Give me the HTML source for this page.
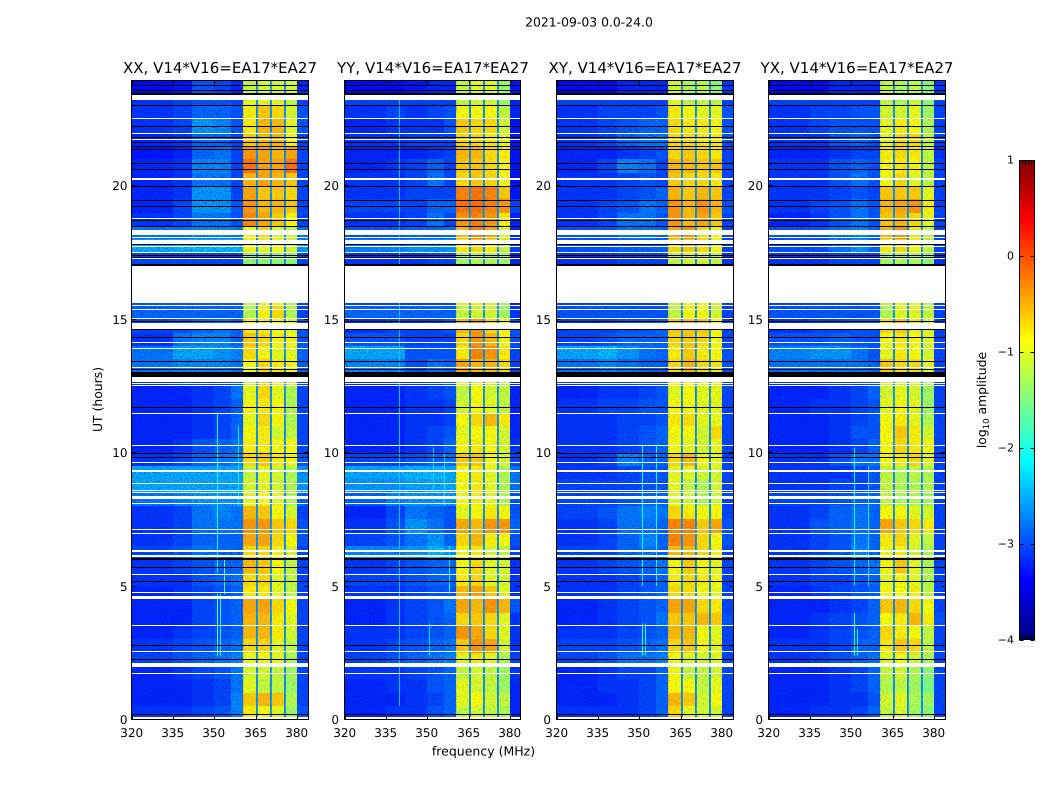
<!DOCTYPE html>
<html lang="en">
<head>
<meta charset="utf-8">
<title>2021-09-03 0.0-24.0</title>
<style>
html,body{margin:0;padding:0;background:#fff;}
body{width:1050px;height:800px;overflow:hidden;}
svg{display:block;}
text{font-family:"DejaVu Sans","Liberation Sans",sans-serif;fill:#000;}
</style>
</head>
<body>
<svg id="figure" xmlns="http://www.w3.org/2000/svg" width="1050" height="800" viewBox="0 0 1050 800" shape-rendering="crispEdges">
  <defs>
    <filter id="grainDark" x="0" y="0" width="100%" height="100%" color-interpolation-filters="sRGB">
      <feTurbulence type="fractalNoise" baseFrequency="0.8" numOctaves="2" seed="7"/>
      <feColorMatrix type="matrix" values="0 0 0 0 0  0 0 0 0 0  0 0 0 0 0.8  3 0 0 0 -1.25"/>
    </filter>
    <filter id="grainLight" x="0" y="0" width="100%" height="100%" color-interpolation-filters="sRGB">
      <feTurbulence type="fractalNoise" baseFrequency="0.8" numOctaves="2" seed="23"/>
      <feColorMatrix type="matrix" values="0 0 0 0 0  0 0 0 0 0.45  0 0 0 0 1  0 3 0 0 -1.3"/>
    </filter>
    <filter id="grainWarm" x="0" y="0" width="100%" height="100%" color-interpolation-filters="sRGB">
      <feTurbulence type="fractalNoise" baseFrequency="0.45" numOctaves="2" seed="41"/>
      <feColorMatrix type="matrix" values="0 0 0 0 1  0 0 0 0 0.5  0 0 0 0 0  3 0 0 0 -1.3"/>
    </filter>
    <filter id="grainCool" x="0" y="0" width="100%" height="100%" color-interpolation-filters="sRGB">
      <feTurbulence type="fractalNoise" baseFrequency="0.45" numOctaves="2" seed="59"/>
      <feColorMatrix type="matrix" values="0 0 0 0 0.55  0 0 0 0 1  0 0 0 0 0.3  0 3 0 0 -1.3"/>
    </filter>
  </defs>
  <text x="589" y="26.5" font-size="12.4" text-anchor="middle" text-rendering="geometricPrecision">2021-09-03 0.0-24.0</text>
  <text x="483.5" y="755.5" font-size="12.5" text-anchor="middle" text-rendering="geometricPrecision">frequency (MHz)</text>
  <text transform="translate(102,399.5) rotate(-90)" font-size="12.4" text-anchor="middle" text-rendering="geometricPrecision">UT (hours)</text>
  <text transform="translate(986,400) rotate(-90)" font-size="12.4" text-anchor="middle" text-rendering="geometricPrecision">log<tspan font-size="8.5" dy="3">10</tspan><tspan dy="-3"> amplitude</tspan></text>
  <g id="panels"></g>
  <g id="colorbar"></g>
</svg>
<script>
const panelTitles = ["XX, V14*V16=EA17*EA27","YY, V14*V16=EA17*EA27","XY, V14*V16=EA17*EA27","YX, V14*V16=EA17*EA27"];
const xTicks = [320,335,350,365,380];
const yTicks = [0,5,10,15,20];
const colorbarTicks = [-4,-3,-2,-1,0,1];
const columnStartMHz = [320,335,342,350,356,360.4,365.6,370.6,375.6,380];
const columnEndMHz = [335,342,350,356,360.4,365,370.1,375.1,380,384];
const gapStartMHz = [365,370.1,375.1];
const gapEndMHz = [365.6,370.6,375.6];
const gapLevels = [-2.7,-2.7,-2.7,-2.7];

/* log10 amplitude, rows run from 24 UT down to 0 UT in half-hour steps */
const amplitudeXX = [
[-3.4,-3.3,-2.9,-3.0,-3.2,-1.2,-1.1,-1.1,-1.1,-3.2],
[-3.1,-3.0,-2.9,-2.9,-3.0,-1.0,-1.0,-1.0,-1.2,-3.0],
[-3.1,-3.0,-2.8,-2.8,-2.9,-0.8,-0.6,-0.7,-1.1,-2.9],
[-3.1,-3.0,-2.5,-2.6,-2.9,-0.8,-0.5,-0.5,-1.0,-2.9],
[-3.2,-3.1,-2.8,-2.8,-3.0,-0.6,-0.5,-0.5,-0.9,-3.0],
[-3.3,-3.2,-2.8,-2.7,-3.0,-0.3,-0.4,-0.5,-0.4,-3.0],
[-3.2,-3.1,-2.6,-2.6,-3.0,-0.1,-0.4,-0.4,-0.1,-3.0],
[-3.2,-3.1,-2.7,-2.7,-3.0,-0.5,-0.4,-0.5,-0.6,-3.0],
[-3.2,-3.1,-2.5,-2.5,-3.0,-0.4,-0.6,-0.6,-0.7,-3.0],
[-3.2,-3.0,-2.5,-2.5,-2.9,-0.3,-0.5,-0.5,-0.6,-3.0],
[-3.1,-3.0,-2.7,-2.7,-2.9,-0.2,-0.4,-0.6,-0.9,-3.0],
[-2.7,-2.7,-2.6,-2.6,-2.7,-0.9,-0.7,-1.0,-1.1,-2.7],
[-2.4,-2.3,-2.3,-2.3,-2.3,-0.9,-1.0,-0.9,-1.1,-2.5],
[-3.0,-3.0,-3.0,-3.0,-3.0,-1.5,-1.5,-1.5,-1.5,-3.0],
[-3.0,-3.0,-3.0,-3.0,-3.0,-1.5,-1.5,-1.5,-1.5,-3.0],
[-3.0,-3.0,-3.0,-3.0,-3.0,-1.5,-1.5,-1.5,-1.5,-3.0],
[-2.9,-2.9,-2.9,-2.9,-2.9,-1.2,-1.0,-0.9,-1.3,-3.0],
[-2.8,-2.8,-2.8,-2.8,-2.8,-1.3,-0.9,-0.7,-1.3,-3.0],
[-3.0,-2.9,-2.8,-2.7,-2.8,-0.8,-0.8,-0.9,-1.0,-2.9],
[-3.1,-2.7,-2.6,-2.6,-2.8,-0.6,-0.7,-0.9,-0.9,-2.9],
[-2.7,-2.4,-2.4,-2.5,-2.6,-0.7,-0.9,-1.0,-1.0,-2.8],
[-2.7,-2.6,-2.6,-2.6,-2.7,-0.9,-0.7,-0.8,-0.9,-2.8],
[-3.1,-3.0,-3.0,-3.0,-2.9,-1.1,-0.7,-1.0,-1.1,-3.0],
[-3.2,-3.2,-3.1,-3.0,-2.7,-1.0,-0.7,-1.0,-1.3,-3.0],
[-3.2,-3.2,-3.1,-3.0,-2.8,-0.9,-0.8,-0.9,-1.3,-3.0],
[-3.2,-3.2,-3.1,-3.0,-2.8,-1.0,-0.7,-0.9,-1.3,-3.0],
[-3.2,-3.2,-3.1,-3.0,-2.8,-0.9,-0.8,-1.1,-1.2,-3.0],
[-3.2,-3.1,-2.9,-2.8,-2.7,-0.8,-0.8,-0.9,-0.9,-3.0],
[-3.1,-3.0,-2.8,-2.7,-2.6,-0.7,-0.6,-0.8,-0.9,-2.9],
[-2.4,-2.4,-2.4,-2.4,-2.4,-1.2,-1.0,-1.1,-1.3,-2.5],
[-2.4,-2.4,-2.4,-2.4,-2.4,-1.1,-1.0,-1.1,-1.3,-2.5],
[-2.7,-2.6,-2.5,-2.5,-2.5,-1.0,-0.9,-1.0,-1.3,-2.8],
[-3.1,-3.0,-2.7,-2.6,-2.7,-0.5,-0.6,-0.9,-1.1,-3.0],
[-3.1,-3.0,-2.7,-2.7,-2.7,-0.3,-0.3,-0.6,-0.7,-2.9],
[-3.1,-3.0,-2.8,-2.8,-2.8,-0.4,-0.4,-0.7,-0.9,-2.9],
[-3.0,-2.9,-2.7,-2.8,-2.8,-0.7,-0.7,-0.9,-1.1,-3.0],
[-3.1,-3.0,-2.9,-2.8,-2.8,-0.5,-0.6,-0.9,-1.2,-3.0],
[-3.1,-3.1,-2.9,-2.8,-2.7,-0.7,-0.7,-1.0,-1.2,-3.0],
[-3.2,-3.1,-3.0,-2.9,-2.8,-0.8,-0.8,-1.0,-1.2,-3.0],
[-3.2,-3.2,-3.0,-2.9,-2.8,-0.4,-0.4,-0.7,-0.9,-3.0],
[-3.2,-3.2,-3.0,-2.9,-2.8,-0.5,-0.5,-0.8,-1.0,-3.0],
[-3.2,-3.1,-3.0,-2.9,-2.8,-0.5,-0.5,-0.8,-1.1,-3.0],
[-3.1,-3.0,-2.9,-2.8,-2.7,-0.7,-0.7,-1.0,-1.2,-3.0],
[-3.0,-2.9,-2.8,-2.7,-2.6,-1.0,-0.9,-1.0,-1.3,-3.0],
[-3.2,-3.1,-3.0,-2.9,-2.7,-1.1,-1.1,-1.2,-1.4,-3.0],
[-3.2,-3.2,-3.1,-3.0,-2.7,-1.0,-1.2,-1.2,-1.4,-3.0],
[-3.2,-3.2,-3.1,-3.0,-2.6,-0.6,-0.5,-0.6,-1.3,-3.0],
[-3.1,-3.1,-3.0,-2.9,-2.6,-0.8,-0.9,-1.0,-1.4,-2.9]
];
const amplitudeYY = [
[-3.4,-3.4,-3.3,-3.2,-3.2,-1.2,-1.0,-1.0,-1.4,-3.3],
[-3.0,-3.0,-3.0,-3.0,-3.0,-1.2,-1.1,-1.1,-1.4,-3.2],
[-3.1,-3.0,-3.1,-3.0,-2.9,-0.9,-0.9,-0.9,-1.2,-3.2],
[-3.2,-3.1,-3.1,-3.1,-2.9,-0.6,-0.7,-0.7,-1.1,-3.3],
[-3.1,-3.1,-3.0,-3.0,-3.0,-0.7,-0.7,-0.8,-1.0,-3.3],
[-3.2,-3.2,-3.2,-3.1,-3.0,-0.5,-0.5,-0.7,-0.8,-3.3],
[-3.2,-3.1,-3.0,-2.8,-3.0,-0.6,-0.6,-0.7,-0.9,-3.3],
[-3.1,-3.1,-3.0,-2.7,-3.0,-0.7,-0.6,-0.7,-0.9,-3.3],
[-3.1,-3.1,-3.0,-3.0,-3.0,-0.2,-0.1,-0.2,-0.6,-3.3],
[-3.0,-3.0,-3.0,-2.8,-2.8,-0.1,-0.1,-0.2,-0.3,-3.0],
[-3.1,-3.1,-3.0,-2.7,-3.0,-0.3,-0.2,-0.3,-0.8,-3.2],
[-2.9,-2.9,-2.8,-2.8,-2.7,-0.5,-0.2,-0.4,-1.0,-3.2],
[-2.6,-2.6,-2.5,-2.5,-2.5,-0.8,-0.7,-0.8,-1.2,-3.0],
[-3.1,-3.1,-3.1,-3.0,-3.0,-1.4,-1.3,-1.3,-1.4,-3.2],
[-3.1,-3.1,-3.1,-3.0,-3.0,-1.4,-1.3,-1.3,-1.4,-3.2],
[-3.1,-3.1,-3.1,-3.0,-3.0,-1.4,-1.3,-1.3,-1.4,-3.2],
[-3.0,-3.0,-3.0,-3.0,-3.0,-1.1,-1.0,-1.1,-1.4,-3.2],
[-2.8,-2.8,-2.8,-2.8,-2.8,-1.2,-1.1,-1.1,-1.4,-3.1],
[-3.1,-3.0,-3.0,-3.0,-2.9,-0.5,-0.3,-0.7,-0.9,-2.9],
[-2.9,-2.9,-3.0,-3.0,-3.0,-0.7,-0.3,-0.5,-0.9,-2.9],
[-2.4,-2.4,-2.9,-2.9,-2.9,-0.8,-0.2,-0.3,-0.8,-3.0],
[-2.6,-2.6,-2.9,-2.7,-2.8,-0.4,-0.5,-0.5,-0.7,-3.0],
[-3.2,-3.1,-3.1,-3.0,-2.9,-1.0,-0.9,-1.1,-1.3,-3.2],
[-3.2,-3.2,-3.1,-3.0,-2.9,-1.2,-0.9,-1.1,-1.2,-3.2],
[-3.2,-3.2,-3.1,-3.1,-3.0,-1.1,-0.9,-1.0,-1.2,-3.2],
[-3.2,-3.2,-3.1,-3.1,-3.0,-0.9,-0.7,-0.5,-0.8,-3.2],
[-3.2,-3.2,-3.1,-3.0,-2.9,-1.0,-0.9,-0.9,-1.1,-3.2],
[-3.2,-3.2,-3.1,-3.0,-2.8,-0.9,-0.8,-0.9,-1.1,-3.1],
[-3.0,-3.0,-2.9,-2.8,-2.7,-0.6,-0.6,-0.9,-1.1,-3.0],
[-2.4,-2.4,-2.3,-2.3,-2.4,-0.9,-0.8,-1.0,-1.3,-2.7],
[-2.5,-2.5,-2.4,-2.4,-2.4,-0.9,-0.8,-1.0,-1.3,-2.7],
[-2.8,-2.6,-2.5,-2.5,-2.5,-0.9,-0.8,-1.0,-1.3,-2.9],
[-3.2,-3.0,-2.7,-2.8,-2.9,-1.0,-0.9,-0.8,-0.9,-2.9],
[-3.1,-2.9,-2.5,-2.7,-2.9,-0.4,-0.5,-0.3,-0.3,-2.8],
[-3.0,-2.9,-2.7,-2.5,-2.8,-0.7,-0.5,-0.8,-0.9,-2.9],
[-2.6,-2.6,-2.5,-2.3,-2.5,-0.9,-0.8,-1.1,-1.2,-3.0],
[-3.1,-3.0,-2.9,-2.8,-2.8,-0.9,-0.7,-1.0,-1.1,-3.1],
[-3.0,-3.0,-2.9,-2.8,-2.8,-0.8,-0.7,-1.0,-1.1,-3.1],
[-3.1,-3.1,-3.0,-2.9,-2.9,-0.5,-0.4,-0.6,-1.0,-3.1],
[-3.2,-3.1,-3.0,-2.9,-2.7,-0.4,-0.5,-0.3,-0.5,-2.9],
[-3.2,-3.1,-3.0,-2.9,-2.8,-0.7,-0.6,-0.7,-1.0,-3.1],
[-3.1,-3.1,-3.0,-2.9,-2.8,-0.3,-0.4,-0.7,-1.0,-3.1],
[-3.1,-3.0,-2.9,-2.8,-2.7,-0.6,-0.3,-0.4,-1.1,-3.1],
[-3.0,-2.9,-2.8,-2.7,-2.6,-1.0,-0.8,-1.0,-1.3,-3.0],
[-3.1,-3.1,-3.0,-2.9,-2.8,-1.2,-1.1,-1.2,-1.4,-3.1],
[-3.2,-3.1,-3.1,-2.9,-2.8,-1.0,-1.1,-1.2,-1.4,-3.2],
[-3.2,-3.2,-3.1,-3.0,-2.8,-1.0,-0.9,-1.1,-1.2,-3.2],
[-3.2,-3.1,-3.1,-2.9,-2.8,-1.2,-1.1,-1.2,-1.3,-3.2]
];
const amplitudeXY = [
[-3.4,-3.4,-3.2,-3.2,-3.2,-1.1,-1.3,-1.2,-1.5,-3.1],
[-3.0,-3.0,-3.0,-3.0,-3.0,-1.0,-1.2,-1.2,-1.2,-3.0],
[-3.1,-3.0,-3.0,-3.0,-2.9,-0.8,-0.9,-1.0,-1.0,-2.9],
[-3.1,-3.0,-2.9,-2.8,-2.8,-0.7,-0.8,-0.8,-0.9,-2.9],
[-3.1,-3.0,-2.8,-2.7,-2.7,-0.7,-0.7,-0.8,-0.8,-2.9],
[-3.2,-3.2,-3.1,-3.0,-2.9,-0.7,-0.6,-0.7,-0.8,-3.0],
[-3.2,-3.0,-2.6,-2.7,-3.0,-0.5,-0.5,-0.6,-0.6,-3.0],
[-3.1,-3.1,-3.0,-2.9,-3.0,-0.6,-0.7,-0.7,-0.8,-3.0],
[-3.1,-3.1,-3.0,-2.9,-2.8,-0.5,-0.6,-0.5,-0.6,-3.0],
[-3.1,-3.0,-2.9,-2.7,-2.8,-0.3,-0.5,-0.3,-0.5,-2.9],
[-3.1,-3.0,-2.7,-2.7,-2.9,-0.3,-0.5,-0.4,-0.6,-3.0],
[-2.9,-2.9,-2.7,-2.7,-2.8,-0.4,-0.3,-0.7,-0.9,-3.0],
[-2.9,-2.9,-2.8,-2.8,-2.8,-0.7,-0.6,-0.7,-0.9,-3.0],
[-3.1,-3.1,-3.0,-3.0,-3.0,-1.2,-1.1,-1.1,-1.2,-3.1],
[-3.1,-3.1,-3.0,-3.0,-3.0,-1.2,-1.1,-1.1,-1.2,-3.1],
[-3.1,-3.1,-3.0,-3.0,-3.0,-1.2,-1.1,-1.1,-1.2,-3.1],
[-3.0,-3.0,-3.0,-3.0,-3.0,-1.2,-0.9,-0.9,-1.1,-3.0],
[-2.9,-2.9,-2.9,-2.9,-2.9,-1.2,-0.9,-0.9,-1.1,-3.0],
[-3.0,-3.0,-2.9,-2.9,-2.8,-0.6,-0.6,-0.6,-0.9,-3.0],
[-3.0,-2.9,-2.8,-2.8,-2.8,-0.7,-0.6,-0.7,-0.9,-3.0],
[-2.4,-2.3,-2.5,-2.7,-2.8,-0.8,-0.6,-0.8,-0.9,-2.9],
[-2.7,-2.6,-2.7,-2.8,-2.8,-0.7,-0.5,-0.7,-0.8,-2.9],
[-3.1,-3.0,-3.0,-2.9,-2.9,-0.9,-0.9,-1.0,-1.0,-3.0],
[-3.2,-3.1,-3.1,-3.0,-2.9,-1.0,-0.9,-1.0,-1.0,-3.0],
[-3.1,-3.0,-3.0,-2.9,-2.9,-0.9,-0.9,-1.0,-1.0,-3.0],
[-3.1,-3.1,-3.0,-3.0,-2.9,-0.8,-0.7,-1.0,-1.0,-3.0],
[-3.1,-3.1,-3.0,-2.9,-2.8,-0.9,-0.9,-1.1,-0.7,-3.0],
[-3.1,-3.1,-3.0,-2.9,-2.8,-0.9,-1.0,-1.1,-1.0,-3.0],
[-3.1,-3.0,-2.6,-2.8,-2.8,-0.7,-0.5,-0.9,-1.0,-3.0],
[-3.1,-3.1,-3.0,-2.9,-2.9,-1.0,-1.0,-1.1,-1.1,-3.0],
[-3.0,-3.0,-3.0,-2.9,-2.9,-1.0,-1.2,-1.3,-1.1,-3.0],
[-3.0,-3.0,-2.9,-2.8,-2.8,-1.0,-1.1,-1.3,-1.1,-3.0],
[-3.0,-2.9,-2.7,-2.6,-2.7,-0.7,-0.8,-0.9,-0.9,-3.0],
[-3.1,-3.0,-2.7,-2.7,-2.8,-0.2,-0.2,-0.6,-0.4,-2.9],
[-3.1,-3.0,-2.8,-2.6,-2.8,-0.2,-0.3,-0.7,-0.9,-2.9],
[-3.0,-3.0,-2.8,-2.7,-2.8,-0.5,-0.5,-0.7,-0.9,-3.0],
[-3.1,-3.0,-2.9,-2.8,-2.7,-0.9,-0.6,-0.9,-1.0,-3.0],
[-3.1,-3.1,-3.0,-2.9,-2.8,-0.8,-0.7,-0.8,-0.9,-3.0],
[-3.1,-3.1,-3.0,-2.9,-2.8,-0.7,-0.7,-0.9,-1.0,-3.0],
[-3.2,-3.1,-3.0,-2.9,-2.8,-0.4,-0.4,-0.7,-0.8,-3.0],
[-3.2,-3.1,-3.0,-2.9,-2.7,-0.6,-0.6,-0.5,-0.6,-2.9],
[-3.1,-3.1,-3.0,-2.9,-2.8,-0.5,-0.5,-0.9,-1.0,-3.0],
[-3.0,-3.0,-2.9,-2.8,-2.7,-0.7,-0.6,-0.9,-1.0,-3.0],
[-3.0,-2.9,-2.7,-2.7,-2.6,-0.9,-1.0,-1.1,-1.0,-3.0],
[-3.2,-3.1,-3.0,-3.0,-2.8,-0.9,-1.2,-1.2,-1.1,-3.0],
[-3.2,-3.1,-3.1,-3.0,-2.8,-0.9,-0.9,-1.2,-1.0,-3.0],
[-3.2,-3.2,-3.1,-3.0,-2.8,-0.5,-0.6,-1.1,-0.9,-3.0],
[-3.1,-3.1,-3.1,-3.0,-2.8,-0.7,-1.0,-1.1,-1.1,-3.0]
];
const amplitudeYX = [
[-3.4,-3.4,-3.2,-3.2,-3.2,-1.2,-1.3,-1.2,-1.5,-3.1],
[-3.0,-3.0,-3.0,-3.0,-3.0,-1.2,-1.3,-1.1,-1.5,-3.0],
[-3.1,-3.0,-3.0,-2.9,-2.9,-1.1,-1.1,-1.0,-1.4,-3.0],
[-3.1,-3.0,-2.9,-2.9,-2.9,-1.0,-0.8,-0.9,-1.3,-3.0],
[-3.1,-3.1,-2.9,-2.8,-2.9,-1.0,-0.7,-0.7,-1.2,-3.0],
[-3.2,-3.2,-3.1,-3.0,-3.0,-0.8,-0.7,-0.8,-1.2,-3.1],
[-3.1,-3.1,-2.9,-2.8,-2.9,-0.9,-0.8,-0.9,-1.2,-3.0],
[-3.1,-3.1,-2.9,-2.7,-2.9,-0.9,-0.7,-1.0,-1.2,-3.0],
[-3.1,-3.1,-3.0,-2.9,-3.0,-0.6,-0.6,-0.6,-1.0,-3.0],
[-3.1,-3.0,-2.9,-2.7,-2.9,-0.5,-0.4,-0.3,-0.8,-3.0],
[-3.2,-3.1,-2.9,-2.7,-2.9,-0.6,-0.5,-0.7,-1.0,-3.0],
[-2.9,-2.9,-2.7,-2.6,-2.8,-0.5,-0.3,-0.8,-1.2,-3.0],
[-2.9,-2.9,-2.7,-2.5,-2.8,-0.8,-0.7,-0.9,-1.2,-3.0],
[-3.1,-3.1,-3.0,-3.0,-3.0,-1.4,-1.3,-1.3,-1.5,-3.1],
[-3.1,-3.1,-3.0,-3.0,-3.0,-1.4,-1.3,-1.3,-1.5,-3.1],
[-3.1,-3.1,-3.0,-3.0,-3.0,-1.4,-1.3,-1.3,-1.5,-3.1],
[-3.0,-3.0,-3.0,-3.0,-3.0,-1.2,-1.0,-1.0,-1.3,-3.0],
[-2.9,-2.9,-2.9,-2.9,-2.9,-1.3,-1.0,-1.0,-1.2,-3.0],
[-3.1,-3.0,-3.0,-2.9,-2.9,-0.7,-0.6,-0.8,-1.0,-3.0],
[-2.9,-2.9,-2.8,-2.9,-2.9,-0.9,-0.8,-0.9,-1.0,-3.0],
[-2.6,-2.5,-2.5,-2.7,-2.9,-1.0,-0.8,-0.9,-1.1,-3.0],
[-2.7,-2.7,-2.7,-2.7,-2.8,-0.6,-0.7,-0.7,-1.0,-3.0],
[-3.1,-3.1,-3.0,-3.0,-2.9,-1.1,-1.1,-1.1,-1.3,-3.0],
[-3.2,-3.2,-3.1,-3.0,-2.8,-1.1,-1.0,-1.1,-1.4,-3.0],
[-3.2,-3.1,-3.1,-3.0,-2.9,-1.0,-0.9,-1.0,-1.4,-3.0],
[-3.2,-3.2,-3.1,-3.0,-2.9,-0.9,-0.8,-1.0,-1.3,-3.0],
[-3.2,-3.2,-3.1,-2.9,-2.9,-0.9,-0.6,-0.8,-1.1,-3.0],
[-3.2,-3.2,-3.1,-3.0,-2.8,-0.9,-0.7,-0.8,-0.9,-3.0],
[-3.1,-3.1,-2.9,-2.7,-2.7,-0.9,-0.8,-0.7,-1.0,-3.0],
[-3.1,-3.1,-3.1,-3.0,-2.9,-1.2,-1.3,-1.2,-1.3,-3.0],
[-3.1,-3.1,-3.0,-3.0,-2.9,-1.2,-1.3,-1.3,-1.3,-3.0],
[-3.0,-3.0,-2.9,-2.8,-2.8,-1.2,-1.3,-1.3,-1.4,-3.0],
[-3.1,-3.0,-2.8,-2.7,-2.8,-0.9,-0.9,-1.0,-1.1,-3.0],
[-3.1,-2.9,-2.8,-2.7,-2.8,-0.4,-0.6,-0.7,-0.8,-3.0],
[-3.1,-3.0,-2.9,-2.7,-2.8,-0.8,-0.7,-1.0,-1.2,-3.0],
[-3.1,-3.0,-2.9,-2.6,-2.8,-0.9,-0.9,-1.1,-1.3,-3.0],
[-3.1,-3.0,-2.9,-2.8,-2.7,-0.9,-0.6,-1.0,-1.3,-3.0],
[-3.1,-3.0,-3.0,-2.9,-2.8,-1.0,-0.9,-1.0,-1.3,-3.0],
[-3.2,-3.1,-3.0,-2.9,-2.8,-0.9,-0.9,-0.8,-1.2,-3.0],
[-3.2,-3.2,-3.1,-3.0,-2.8,-0.6,-0.5,-0.7,-0.9,-3.0],
[-3.2,-3.1,-3.0,-2.9,-2.8,-0.9,-0.8,-0.5,-0.8,-2.9],
[-3.2,-3.1,-3.0,-2.9,-2.8,-0.7,-0.8,-0.9,-1.2,-3.0],
[-3.1,-3.1,-3.0,-2.8,-2.8,-0.8,-0.6,-0.7,-1.2,-3.0],
[-3.1,-3.0,-2.9,-2.8,-2.7,-1.0,-0.9,-1.1,-1.3,-3.0],
[-3.2,-3.2,-3.1,-3.0,-2.8,-1.2,-1.1,-1.3,-1.5,-3.0],
[-3.2,-3.2,-3.1,-3.0,-2.8,-1.3,-1.2,-1.4,-1.6,-3.0],
[-3.2,-3.2,-3.1,-3.1,-2.9,-1.1,-1.0,-1.3,-1.4,-3.0],
[-3.2,-3.1,-3.1,-3.0,-2.8,-1.2,-1.1,-1.4,-1.5,-3.0]
];
const panelAmplitudes = [amplitudeXX,amplitudeYY,amplitudeXY,amplitudeYX];

/* narrow vertical interference features: panel index, MHz, start UT, end UT, log amplitude */
const rfiPanel = [0,0,0,0,0,1,1,1,1,1,2,2,2,2,3,3,3,3];
const rfiFreq = [350.9,351.9,350.9,353.5,358.5,339.8,350.5,352,358,356,350.8,352,350.8,356,351,352,351,356];
const rfiStartUT = [2.4,2.4,5.5,4.7,8,0.5,2.4,8.5,4.7,8,2.4,2.4,5,5,2.4,2.4,5,5];
const rfiEndUT = [4.7,4.7,11.5,6,11,23.3,3.6,10.2,6.5,10,3.6,3.6,10.3,10.3,4,3.4,10.2,9.5];
const rfiLevel = [-1.7,-2,-2.1,-1.8,-2.2,-2.4,-2.3,-2.3,-2.2,-2.2,-1.9,-2.1,-2.1,-2.1,-1.9,-2.1,-2.1,-2.2];

/* flagged spans shared by all baselines, in UT hours */
const whiteSpanStart = [23.22,22.51,21.95,21.71,20.23,18.75,18.13,18.04,17.91,17.84,17.69,17.50,17.26,15.61,15.49,15.33,15.02,14.65,14.12,13.88,13.18,12.65,12.57,12.51,11.46,10.26,9.62,9.27,8.83,8.57,8.50,8.27,8.09,7.11,6.96,6.25,6.08,5.42,4.74,4.52,3.51,2.53,1.97,1.71,0.02];
const whiteSpanEnd = [23.42,22.55,21.99,21.75,20.30,18.79,18.33,18.08,17.98,17.91,17.73,17.54,17.30,17.01,15.53,15.37,15.06,14.87,14.16,13.92,13.22,12.83,12.61,12.55,11.50,10.30,9.66,9.36,8.87,8.61,8.54,8.37,8.13,7.15,7.00,6.34,6.16,5.46,4.78,4.63,3.55,2.57,2.11,1.75,0.08];
const blackSpanStart = [23.74,23.56,23.43,23.00,22.20,21.80,21.61,21.47,21.33,20.81,20.60,19.95,19.42,19.21,18.69,18.46,17.79,17.38,17.30,17.01,14.87,14.61,14.31,13.38,13.08,12.86,11.68,9.94,9.81,6.00,5.68,5.16,2.74,2.23,0.18];
const blackSpanEnd = [23.78,23.60,23.50,23.04,22.24,21.84,21.65,21.51,21.37,20.85,20.64,19.99,19.46,19.25,18.73,18.50,17.82,17.42,17.34,17.07,14.92,14.65,14.35,13.42,13.12,13.04,11.72,9.98,9.85,6.06,5.72,5.20,2.78,2.27,0.21];

const rowHours = 0.5;
const NS = "http://www.w3.org/2000/svg";
const panelLeft = [131.5,344.5,556.5,768.5];
const panelWidths = [177,176,177,177];
const plotTop = 80.5, plotBottom = 719.5;
const pxPerHour = 26.68;
const xScale = (p,f) => panelLeft[p] + (f-320)*2.76;
const yScale = t => plotBottom - t*pxPerHour;
const cbScale = v => 160 + (1-v)/5*480;

function clamp01(v){return Math.max(0,Math.min(1,v));}
function jet(v){
  const n = clamp01((v+4)/5);
  const r = clamp01(Math.min(4*n-1.5,-4*n+4.5));
  const g = clamp01(Math.min(4*n-0.5,-4*n+3.5));
  const b = clamp01(Math.min(4*n+0.5,-4*n+2.5));
  return "rgb("+Math.round(r*255)+","+Math.round(g*255)+","+Math.round(b*255)+")";
}
function rect(parent,x,y,w,h,fill){
  const el = document.createElementNS(NS,"rect");
  el.setAttribute("x",x);
  el.setAttribute("y",y);
  el.setAttribute("width",w);
  el.setAttribute("height",h);
  el.setAttribute("fill",fill);
  parent.appendChild(el);
  return el;
}
function line(parent,x1,y1,x2,y2,width){
  const el = document.createElementNS(NS,"line");
  el.setAttribute("x1",x1);
  el.setAttribute("y1",y1);
  el.setAttribute("x2",x2);
  el.setAttribute("y2",y2);
  el.setAttribute("stroke","#000");
  el.setAttribute("stroke-width",width);
  parent.appendChild(el);
  return el;
}
function label(parent,x,y,str,anchor,size){
  const el = document.createElementNS(NS,"text");
  el.setAttribute("x",x);
  el.setAttribute("y",y);
  el.setAttribute("text-anchor",anchor);
  el.setAttribute("font-size",size);
  el.setAttribute("text-rendering","geometricPrecision");
  el.textContent = str;
  parent.appendChild(el);
  return el;
}

const panelsRoot = document.getElementById("panels");
panelAmplitudes.forEach(function(rows,p){
  const panelWidth = panelWidths[p];
  const g = document.createElementNS(NS,"g");
  
  
  panelsRoot.appendChild(g);

  const clipId = "clip"+p;
  const clip = document.createElementNS(NS,"clipPath");
  clip.setAttribute("id",clipId);
  rect(clip,panelLeft[p],plotTop,panelWidth,plotBottom-plotTop,"#000");
  g.appendChild(clip);

  const heat = document.createElementNS(NS,"g");
  heat.setAttribute("clip-path","url(#"+clipId+")");
  
  
  g.appendChild(heat);

  rows.forEach(function(row,r){
    const tTop = 24 - r*rowHours;
    const y0 = Math.round(yScale(tTop));
    const y1 = Math.round(yScale(tTop-rowHours));
    row.forEach(function(value,c){
      const x0 = Math.round(xScale(p,columnStartMHz[c]));
      const x1 = Math.round(xScale(p,columnEndMHz[c]));
      const cell = rect(heat,x0,y0,x1-x0,y1-y0,jet(value));
      
      
    });
    gapStartMHz.forEach(function(f,c){
      const x0 = Math.round(xScale(p,f));
      const x1 = Math.round(xScale(p,gapEndMHz[c]));
      const gap = rect(heat,x0,y0,Math.max(2,x1-x0),y1-y0,jet(gapLevels[p]));
      
      
    });
  });

  const textureStart = [320,380];
  const textureEnd = [360.4,384];
  textureStart.forEach(function(f,i){
    const x0 = xScale(p,f);
    const w = xScale(p,textureEnd[i])-x0;
    const dark = rect(heat,x0,plotTop,w,plotBottom-plotTop,"#000");
    dark.setAttribute("filter","url(#grainDark)");
    dark.setAttribute("opacity","0.6");
    
    
    const light = rect(heat,x0,plotTop,w,plotBottom-plotTop,"#000");
    light.setAttribute("filter","url(#grainLight)");
    light.setAttribute("opacity","0.3");
    
    
  });

  const bandStart = [360.4,365.6,370.6,375.6];
  const bandEnd = [365,370.1,375.1,380];
  bandStart.forEach(function(f,i){
    const x0 = Math.round(xScale(p,f));
    const w = Math.round(xScale(p,bandEnd[i]))-x0;
    const warm = rect(heat,x0,plotTop,w,plotBottom-plotTop,"#000");
    warm.setAttribute("filter","url(#grainWarm)");
    warm.setAttribute("opacity","0.35");
    
    
    const cool = rect(heat,x0,plotTop,w,plotBottom-plotTop,"#000");
    cool.setAttribute("filter","url(#grainCool)");
    cool.setAttribute("opacity","0.35");
    
    
  });

  rfiFreq.forEach(function(f,i){
    if(rfiPanel[i]!==p) return;
    const y0 = yScale(rfiEndUT[i]);
    const rf = rect(heat,Math.round(xScale(p,f)),y0,1,yScale(rfiStartUT[i])-y0,jet(rfiLevel[i]));
    
    
  });

  whiteSpanStart.forEach(function(t,i){
    const y0 = yScale(whiteSpanEnd[i]);
    const w = rect(heat,panelLeft[p],Math.round(y0),panelWidth,Math.max(1,Math.round(yScale(t)-y0)),"#fff");
    
    
  });
  blackSpanStart.forEach(function(t,i){
    const y0 = yScale(blackSpanEnd[i]);
    const b = rect(heat,panelLeft[p],Math.round(y0),panelWidth,Math.max(1,Math.round(yScale(t)-y0)),"#000");
    
    
  });

  const frame = rect(g,panelLeft[p],plotTop,panelWidth,plotBottom-plotTop,"none");
  frame.setAttribute("stroke","#000");
  frame.setAttribute("stroke-width","1");
  
  

  const title = label(g,panelLeft[p]+88.5,73,panelTitles[p],"middle",15);
  
  

  xTicks.forEach(function(tick){
    const x = Math.round(xScale(p,tick))+0.5;
    const t1 = line(g,x,plotBottom,x,plotBottom-4,1);
    
    
    const t2 = line(g,x,plotTop,x,plotTop+4,1);
    
    
    const tl = label(g,x-0.8,737,String(tick),"middle",12);
    
    
  });
  yTicks.forEach(function(tick){
    const y = Math.round(yScale(tick)-0.5)+0.5;
    const t1 = line(g,panelLeft[p],y,panelLeft[p]+4,y,1);
    
    
    const t2 = line(g,panelLeft[p]+panelWidth,y,panelLeft[p]+panelWidth-4,y,1);
    
    
    const tl = label(g,panelLeft[p]-(p===0?4:5.5),y+4.5,String(tick),"end",12);
    
    
  });
});

const cb = document.getElementById("colorbar");
for(let yy=160;yy<640;yy+=2){
  const v = 1-(yy+1-160)/480*5;
  const s = rect(cb,1019.5,yy,15,2,jet(v));
  
  
}
const cbFrame = rect(cb,1019.5,160.5,15,479,"none");
cbFrame.setAttribute("stroke","#000");
cbFrame.setAttribute("stroke-width","1");


colorbarTicks.forEach(function(tick){
  const y = Math.round(cbScale(tick))+0.5;
  const a = line(cb,1019.5,y,1023.5,y,1);
  
  
  const b = line(cb,1034.5,y,1030.5,y,1);
  
  
  const str = tick<0 ? "\u2212"+Math.abs(tick) : String(tick);
  const l = label(cb,1014,y+3,str,"end",11);
  
  
});
[1022.5,1025.5,1028.5,1031.5].forEach(function(x){
  const a = line(cb,x,160.5,x,164.5,1);
  
  
  const b = line(cb,x,639.5,x,635.5,1);
  
  
});
const dots = label(cb,1026.5,647,"......","middle",6);
dots.setAttribute("letter-spacing","1");
dots.setAttribute("opacity","0.55");


</script>
</body>
</html>
